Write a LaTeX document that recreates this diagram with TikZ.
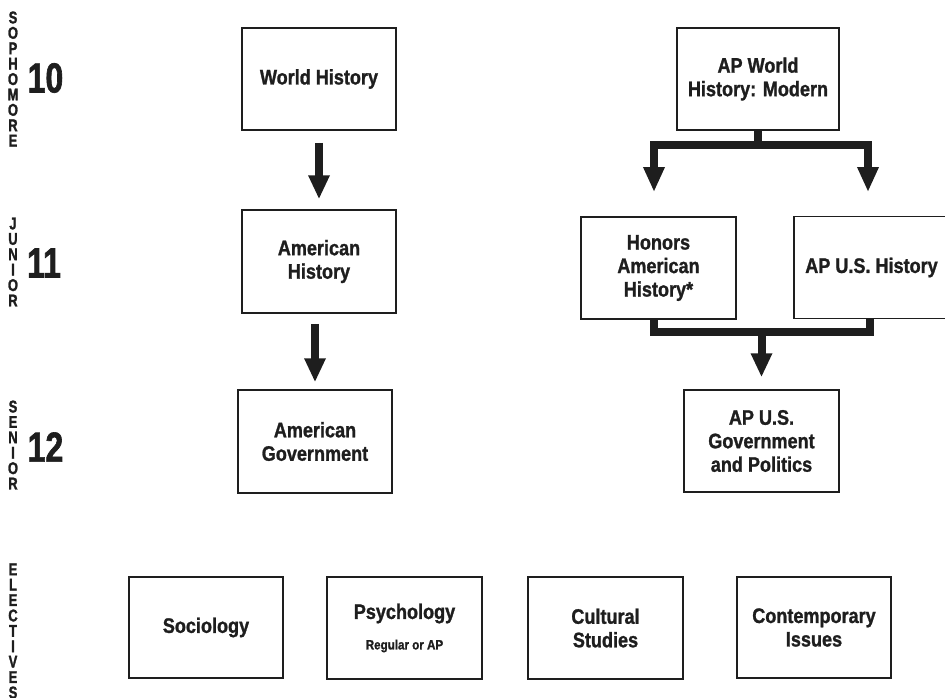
\documentclass[tikz,border=0pt]{standalone}
\usepackage{fontspec}
\setmainfont{Liberation Sans}[FakeStretch=0.86, BoldFeatures={FakeBold=1.2}]
\newfontfamily\numfont{Liberation Sans}[FakeStretch=0.76, BoldFeatures={FakeBold=1.5}]
\usetikzlibrary{arrows.meta}
\definecolor{ink}{HTML}{1E1E1E}
\tikzset{
  course/.style={draw=ink, line width=1.5pt, rectangle, inner sep=0pt,
    minimum width=154pt, minimum height=102pt, align=center, text=ink,
    font=\bfseries\fontsize{21}{23.5}\selectfont},
  grade/.style={text=ink, inner sep=0pt, font=\numfont\bfseries\fontsize{42}{44}\selectfont},
  side/.style={text=ink, inner sep=0pt, align=center,
    font=\numfont\bfseries\fontsize{17}{15.4}\selectfont},
  arr/.style={draw=ink, line width=8pt, -{Triangle[width=20pt,length=24pt]}, fill=ink},
  twoarr/.style={draw=ink, line width=8pt, {Triangle[width=20pt,length=25pt]}-{Triangle[width=20pt,length=25pt]}, line join=miter},
  bar/.style={draw=ink, line width=8pt, line join=miter}
}
\begin{document}
\begin{tikzpicture}[x=1pt, y=-1pt]
\useasboundingbox[fill=white] (0,0) rectangle (945,697);

% side labels
\node[side] (soph) at (13,79) {S\\O\\P\\H\\O\\M\\O\\R\\E};
\node[side] (jun) at (13,262) {J\\U\\N\\I\\O\\R};
\node[side] (sen) at (13,445) {S\\E\\N\\I\\O\\R};
\node[side] (elec) at (13,631) {E\\L\\E\\C\\T\\I\\V\\E\\S};
\node[grade] (g10) at (45.5,78) {10};
\node[grade] (g11) at (44,263) {11};
\node[grade] (g12) at (45.5,447) {12};

% regular track
\node[course] (wh) at (319,79) {World History};
\node[course, minimum height=103pt] (ah) at (319,261.5) {American\\History};
\node[course, minimum height=103pt] (ag) at (315,441.5) {American\\Government};

% AP track
\node[course, minimum width=162pt] (apw) at (758,79) {AP World\\History: Modern};
\node[course, minimum width=155pt] (hon) at (658.5,268) {Honors\\American\\History*};
\node[course, minimum width=155pt] (apus) at (871.5,267.5) {AP U.S. History};
\node[course, minimum width=155pt] (apg) at (761.5,441) {AP U.S.\\Government\\and Politics};

% electives
\node[course, minimum height=101pt] (soc) at (206,627.5) {Sociology};
\node[course, minimum width=155pt] (psy) at (404.5,628) {Psychology\\[7pt]{\fontsize{13.5}{15}\selectfont Regular or AP}};
\node[course, minimum width=155pt] (cul) at (605.5,628) {Cultural\\Studies};
\node[course, minimum height=101pt] (con) at (814,627.5) {Contemporary\\Issues};

% arrows, regular track
\draw[arr] ([yshift=-12pt]wh.south) -- ([yshift=10pt]ah.north);
\draw[arr] ([yshift=-10pt]ah.south -| ag.north) -- ([yshift=7pt]ag.north);

% branch from AP World
\coordinate (b1) at (654,145);
\coordinate (b2) at (868,145);
\coordinate (t1) at (654,192);
\coordinate (t2) at (868,192);
\draw[bar] (apw.south) -- (apw.south |- b1);
\draw[twoarr] (t1) -- (b1) -- (b2) -- (t2);

% merge into AP Gov
\coordinate (m1) at (654,331.5);
\coordinate (m2) at (870,331.5);
\draw[bar] (hon.south -| m1) -- (m1) -- (m2) -- (apus.south -| m2);
\draw[arr] (apg.north |- m1) -- ([yshift=12pt]apg.north);
\end{tikzpicture}
\end{document}
